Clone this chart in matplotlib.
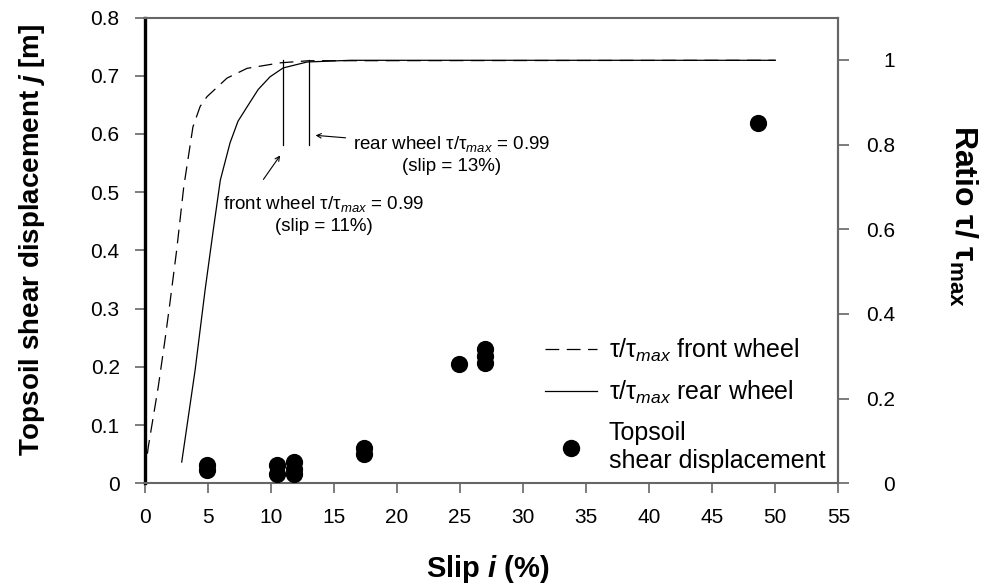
import matplotlib
matplotlib.use("Agg")
from matplotlib import pyplot as plt
from matplotlib.lines import Line2D

plt.rcParams['font.family'] = ['Liberation Sans', 'DejaVu Sans']
plt.rcParams['mathtext.fontset'] = 'custom'
plt.rcParams['mathtext.rm'] = 'Liberation Sans'
plt.rcParams['mathtext.it'] = 'Liberation Sans:italic'
plt.rcParams['mathtext.bf'] = 'Liberation Sans:bold'
plt.rcParams['mathtext.bfit'] = 'Liberation Sans:italic:bold'

# tau/tau_max curves (right axis)
front_slip = [0, 0.29, 1.08, 1.61, 2.0, 2.54, 3.1, 3.83, 4.4, 4.94, 6.53, 8.12, 10.74, 13.0, 50]
front_ratio = [0.02, 0.086, 0.228, 0.338, 0.425, 0.551, 0.70, 0.842, 0.89, 0.913, 0.957, 0.98, 0.993, 0.998, 0.999]
rear_slip = [2.94, 4.0, 4.79, 5.44, 6.0, 6.77, 7.4, 8.12, 9.0, 9.94, 10.98, 12.88, 16.3, 50]
rear_ratio = [0.05, 0.267, 0.456, 0.598, 0.716, 0.804, 0.855, 0.889, 0.93, 0.96, 0.981, 0.995, 0.999, 0.999]

# topsoil shear displacement (left axis)
pt_slip = [4.97, 4.97, 10.52, 10.52, 11.87, 11.87, 11.87, 17.4, 17.4, 24.9, 27.0, 27.0, 27.0, 48.6]
pt_disp = [0.022, 0.032, 0.015, 0.031, 0.015, 0.025, 0.036, 0.050, 0.060, 0.205, 0.207, 0.219, 0.231, 0.619]

# slip at tau/tau_max = 0.99
mark_slip = [11, 13]

x_ticks = list(range(0, 56, 5))
left_ticks = [0, 0.1, 0.2, 0.3, 0.4, 0.5, 0.6, 0.7, 0.8]
left_labels = ['0', '0.1', '0.2', '0.3', '0.4', '0.5', '0.6', '0.7', '0.8']
right_ticks = [0, 0.2, 0.4, 0.6, 0.8, 1.0]
right_labels = ['0', '0.2', '0.4', '0.6', '0.8', '1']

grey = '#666666'

fig = plt.figure(figsize=(9.84, 5.85), dpi=100)
ax = fig.add_axes([0.147, 0.174, 0.705, 0.796])
ax2 = ax.twinx()

ax.scatter(pt_slip, pt_disp, s=130, color='black', zorder=5, clip_on=False)
ax2.plot(front_slip, front_ratio, color='black', lw=0.9, linestyle=(0, (11, 6)))
ax2.plot(rear_slip, rear_ratio, color='black', lw=0.9)
for s in mark_slip:
    ax2.plot([s, s], [0.8, 1.0], color='black', lw=0.9)

ax.set_xlim(0, 55)
ax.set_ylim(0, 0.8)
ax2.set_ylim(0, 1.1)
ax.set_xticks(x_ticks)
ax.set_yticks(left_ticks)
ax.set_yticklabels(left_labels)
ax2.set_yticks(right_ticks)
ax2.set_yticklabels(right_labels, ha='right')

ax.tick_params(axis='x', direction='out', length=7, width=1.2, color=grey, pad=11, labelsize=15)
ax.tick_params(axis='y', direction='out', length=7, width=1.2, color=grey, pad=11, labelsize=15)
ax2.tick_params(axis='y', direction='out', length=8, width=1.2, color=grey, pad=33, labelsize=15)

for name in ['top', 'right', 'bottom']:
    ax.spines[name].set_color(grey)
    ax.spines[name].set_linewidth(1.5)
ax.spines['left'].set_color('black')
ax.spines['left'].set_linewidth(2.4)
ax2.spines['left'].set_visible(False)
ax2.spines['top'].set_visible(False)
ax2.spines['bottom'].set_visible(False)
ax2.spines['right'].set_color(grey)
ax2.spines['right'].set_linewidth(1.5)

ax.set_xlabel(r'Slip $\mathbfit{i}$ (%)', fontsize=21, fontweight='bold')
ax.xaxis.set_label_coords(0.494, -0.15)
ax.set_ylabel(r'Topsoil shear displacement $\mathbfit{j}$ [m]', fontsize=20, fontweight='bold')
ax.yaxis.set_label_coords(-0.141, 0.522)
fig.text(0.979, 0.631, r'Ratio τ/ τ$_{\mathbf{max}}$', fontsize=23, fontweight='bold',
         rotation=-90, ha='center', va='center')

ax.annotate('', xy=(13.33, 0.598), xytext=(16.15, 0.593),
            arrowprops=dict(arrowstyle='->', lw=0.8, color='black', mutation_scale=8))
ax.annotate('', xy=(10.87, 0.567), xytext=(9.29, 0.518),
            arrowprops=dict(arrowstyle='->', lw=0.8, color='black', mutation_scale=8))
ax.text(24.3, 0.565, 'rear wheel τ/τ$_{max}$ = 0.99\n(slip = 13%)', fontsize=13.5,
        ha='center', va='center', linespacing=1.3)
ax.text(14.23, 0.461, 'front wheel τ/τ$_{max}$ = 0.99\n(slip = 11%)', fontsize=13.5,
        ha='center', va='center', linespacing=1.3)

handles = [Line2D([], [], color='black', lw=0.9, linestyle=(0, (11, 6))),
           Line2D([], [], color='black', lw=0.9),
           Line2D([], [], color='black', marker='o', markersize=11.5, linestyle='none')]
labels = ['τ/τ$_{max}$ front wheel', 'τ/τ$_{max}$ rear wheel', 'Topsoil\nshear displacement']
ax2.legend(handles, labels, loc='upper left', bbox_to_anchor=(0.577, 0.315), frameon=False,
           fontsize=18, handlelength=2.1, handletextpad=0.45, labelspacing=0.6,
           borderpad=0, borderaxespad=0)

fig.savefig('out.png', dpi=100)
